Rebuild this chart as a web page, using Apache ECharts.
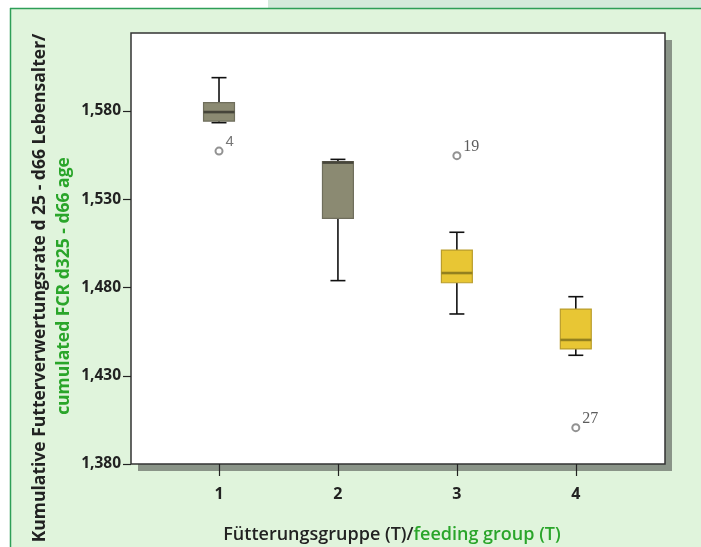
<!DOCTYPE html>
<html>
<head>
<meta charset="utf-8">
<script src="https://cdn.jsdelivr.net/npm/echarts@6/dist/echarts.min.js"></script>
<style>
html,body{margin:0;padding:0;background:#fff;}
#chart{width:701px;height:547px;}
</style>
</head>
<body>
<div id="chart"></div>
<script>
// ---- data ----
var groups = [1, 2, 3, 4];
var groupLabels = ['1', '2', '3', '4'];
// [group, min, Q1, median, Q3, max]
var box1 = [1, 1.5734, 1.5743, 1.5794, 1.5847, 1.5989];
var box2 = [2, 1.4839, 1.5192, 1.5508, 1.5513, 1.5526];
var box3 = [3, 1.4650, 1.4827, 1.4882, 1.5012, 1.5113];
var box4 = [4, 1.4416, 1.4452, 1.4503, 1.4678, 1.4748];
var outlierX = [1, 3, 4];
var outlierY = [1.5573, 1.5547, 1.4006];
var outlierLabels = ['4', '19', '27'];
var yTicks = [1.38, 1.43, 1.48, 1.53, 1.58];

// ---- styles ----
var boxFill = ['#8b8a72', '#8b8a72', '#e8c634', '#e8c634'];
var boxStroke = ['#6f6e5c', '#6f6e5c', '#b99d2c', '#b99d2c'];
var medianColor = ['#46453a', '#46453a', '#93801f', '#93801f'];
var labelStyles = ['sans', 'serif', 'serif'];

var boxData = [box1, box2, box3, box4];
var outlierData = outlierX.map(function (x, i) {
  var serif = labelStyles[i] === 'serif';
  return {
    value: [x, outlierY[i]],
    label: { formatter: outlierLabels[i], fontFamily: serif ? 'Liberation Serif' : 'Liberation Sans', fontSize: serif ? 16 : 15, color: serif ? '#333' : '#555' }
  };
});

var chart = echarts.init(document.getElementById('chart'), null, { renderer: 'canvas' });

function renderBox(params, api) {
  var idx = params.dataIndex;
  var x = api.value(0);
  var pMin = api.coord([x, api.value(1)]);
  var pQ1 = api.coord([x, api.value(2)]);
  var pMed = api.coord([x, api.value(3)]);
  var pQ3 = api.coord([x, api.value(4)]);
  var pMax = api.coord([x, api.value(5)]);
  var unit = api.size([1, 0])[0];
  var hw = unit * 0.13;
  var cw = unit * 0.063;
  var cx = pMed[0];
  var whisk = { stroke: '#111', lineWidth: 1.6 };
  return {
    type: 'group',
    children: [
      { type: 'line', shape: { x1: cx, y1: pMax[1], x2: cx, y2: pQ3[1] }, style: whisk },
      { type: 'line', shape: { x1: cx - cw, y1: pMax[1], x2: cx + cw, y2: pMax[1] }, style: whisk },
      { type: 'line', shape: { x1: cx, y1: pMin[1], x2: cx, y2: pQ1[1] }, style: whisk },
      { type: 'line', shape: { x1: cx - cw, y1: pMin[1], x2: cx + cw, y2: pMin[1] }, style: whisk },
      { type: 'rect', shape: { x: cx - hw, y: pQ3[1], width: hw * 2, height: pQ1[1] - pQ3[1] },
        style: { fill: boxFill[idx], stroke: boxStroke[idx], lineWidth: 1.2 } },
      { type: 'line', shape: { x1: cx - hw, y1: pMed[1], x2: cx + hw, y2: pMed[1] },
        style: { stroke: medianColor[idx], lineWidth: 2.6 } }
    ]
  };
}

var gridPos = { left: 131, top: 33, width: 534, height: 431 };
var titleFont = 'Open Sans';

var option = {
  backgroundColor: '#e0f4dc',
  animation: false,
  graphic: {
    elements: [
      { type: 'rect', z: -10, shape: { x: 0, y: 0, width: 701, height: 8 }, style: { fill: '#d4eadb' } },
      { type: 'rect', z: -9, shape: { x: 0, y: 0, width: 268, height: 8 }, style: { fill: '#ffffff' } },
      { type: 'rect', z: -9, shape: { x: 0, y: 0, width: 10, height: 547 }, style: { fill: '#ffffff' } },
      { type: 'line', z: -8, shape: { x1: 10, y1: 8.5, x2: 701, y2: 8.5 }, style: { stroke: '#2e9e57', lineWidth: 1.5 } },
      { type: 'line', z: -8, shape: { x1: 10.5, y1: 8, x2: 10.5, y2: 547 }, style: { stroke: '#2e9e57', lineWidth: 1.5 } },
      {
        type: 'text', x: 40, y: 288, rotation: Math.PI / 2, z: 100,
        style: { text: 'Kumulative Futterverwertungsrate d 25 - d66 Lebensalter/', fill: '#222', font: 'bold 17.5px "Open Sans"', align: 'center', verticalAlign: 'middle' }
      },
      {
        type: 'text', x: 64, y: 286, rotation: Math.PI / 2, z: 100,
        style: { text: 'cumulated FCR d325 - d66 age', fill: '#2aa52a', font: 'bold 17.5px "Open Sans"', align: 'center', verticalAlign: 'middle' }
      },
      {
        type: 'text', x: 392, y: 535, z: 100,
        style: {
          text: '{a|Fütterungsgruppe (T)/}{b|feeding group (T)}', align: 'center', verticalAlign: 'middle',
          rich: {
            a: { fontSize: 18, fontWeight: 600, fontFamily: titleFont, fill: '#222' },
            b: { fontSize: 18, fontWeight: 600, fontFamily: titleFont, fill: '#2aa52a' }
          }
        }
      }
    ]
  },
  grid: [
    Object.assign({
      show: true, backgroundColor: '#ffffff', borderWidth: 0,
      shadowColor: '#8a9488', shadowBlur: 0, shadowOffsetX: 7, shadowOffsetY: 7
    }, gridPos),
    Object.assign({
      show: true, backgroundColor: 'transparent', borderColor: '#333', borderWidth: 1.5
    }, gridPos)
  ],
  xAxis: [{
    type: 'value', min: 0.26, max: 4.75, gridIndex: 0,
    splitLine: { show: false },
    axisLine: { show: false },
    axisTick: { show: true, customValues: groups, length: 12, lineStyle: { color: '#222', width: 1.2 } },
    axisLabel: {
      customValues: groups,
      formatter: function (v) { return groupLabels[groups.indexOf(v)]; },
      margin: 22, fontSize: 16, fontWeight: 'bold', fontFamily: titleFont, color: '#222'
    }
  }, {
    type: 'value', gridIndex: 1, show: false, min: 0, max: 1
  }],
  yAxis: [{
    type: 'value', min: 1.38, max: 1.6242, gridIndex: 0,
    splitLine: { show: false },
    axisLine: { show: false },
    axisTick: { show: true, customValues: yTicks, length: 8, lineStyle: { color: '#222', width: 1.2 } },
    axisLabel: {
      customValues: yTicks,
      formatter: function (v) { return v.toFixed(3).replace('.', ','); },
      margin: 10, fontSize: 15.5, fontWeight: 'bold', fontFamily: titleFont, color: '#222'
    }
  }, {
    type: 'value', gridIndex: 1, show: false, min: 0, max: 1
  }],
  series: [
    {
      type: 'custom',
      renderItem: renderBox,
      data: boxData,
      encode: { x: 0, y: [1, 2, 3, 4, 5] },
      z: 3
    },
    {
      type: 'scatter',
      data: outlierData,
      symbol: 'emptyCircle',
      symbolSize: 7,
      itemStyle: { color: '#777', borderColor: '#777', borderWidth: 1.2 },
      label: { show: true, position: 'right', distance: 2, offset: [0, -9] },
      z: 4
    }
  ]
};
chart.setOption(option);
</script>
</body>
</html>
